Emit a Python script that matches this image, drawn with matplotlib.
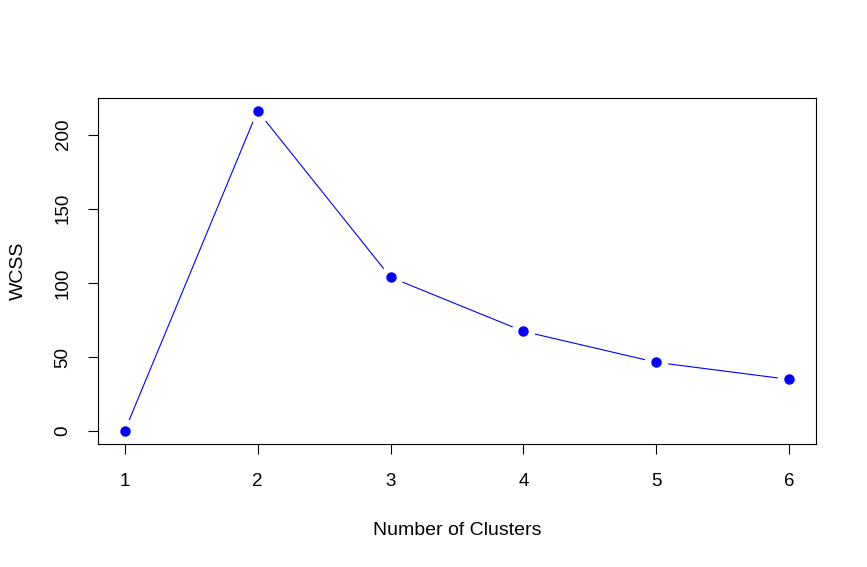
import matplotlib
matplotlib.use("Agg")
import matplotlib.pyplot as plt

clusters = [1, 2, 3, 4, 5, 6]
wcss = [0.0, 216.0, 103.8, 67.3, 46.4, 34.9]
xticks = [1, 2, 3, 4, 5, 6]
yticks = [0, 50, 100, 150, 200]

plt.rcParams['font.family'] = ['Liberation Sans', 'DejaVu Sans']

fig = plt.figure(figsize=(8.67, 5.67), dpi=100)
ax = fig.add_axes([98/867, 1 - 444/567, 718/867, 346/567])

ax.plot(clusters, wcss, color='blue', linewidth=0.8, zorder=2)
ax.plot(clusters, wcss, linestyle='none', marker='o', markersize=16,
        markerfacecolor='white', markeredgecolor='white', zorder=3)
ax.plot(clusters, wcss, linestyle='none', marker='o', markersize=6.5,
        markerfacecolor='blue', markeredgecolor='blue', zorder=4)

rng = max(wcss) - min(wcss)
ax.set_xlim(0.8, 6.2)
ax.set_ylim(min(wcss) - 0.04 * rng, max(wcss) + 0.04 * rng)
ax.set_xticks(xticks)
ax.set_yticks(yticks)
ax.set_xticklabels([str(t) for t in xticks])
ax.set_yticklabels([str(t) for t in yticks], rotation=90, va='center')
ax.tick_params(direction='out', length=7, width=0.8, labelsize=13.5, pad=14)
ax.tick_params(axis='y', pad=12)
for s in ax.spines.values():
    s.set_linewidth(0.8)

ax.set_xlabel('Number of Clusters', fontsize=14, labelpad=23)
ax.set_ylabel('WCSS', fontsize=14, labelpad=20)

fig.savefig('out.png', dpi=100)
